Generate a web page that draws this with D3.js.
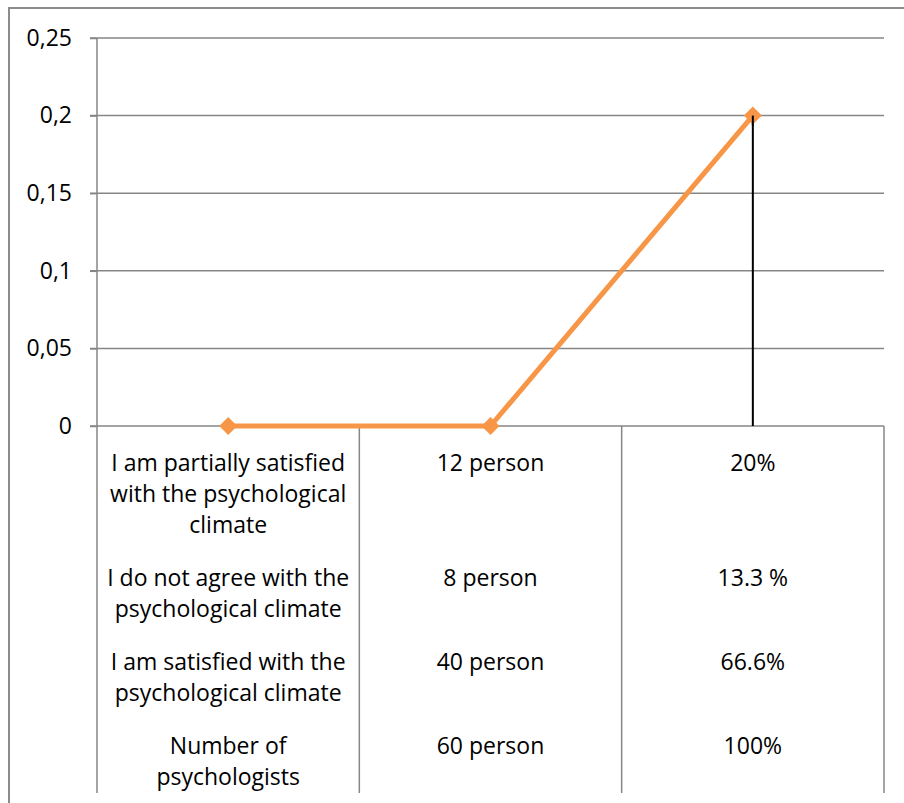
<!DOCTYPE html>
<html>
<head>
<meta charset="utf-8">
<script src="https://cdn.jsdelivr.net/npm/d3@7"></script>
<style>
  html, body { margin: 0; padding: 0; background: #fff; }
  svg { display: block; }
  text { font-family: "Open Sans", sans-serif; fill: #000; }
</style>
</head>
<body>
<script>
// Survey of psychologists on the psychological climate
const statements = [
  ["I am partially satisfied", "with the psychological", "climate"],
  ["I do not agree with the", "psychological climate"],
  ["I am satisfied with the", "psychological climate"],
  ["Number of", "psychologists"]
];
const counts = ["12 person", "8 person", "40 person", "60 person"];
const shares = ["20%", "13.3 %", "66.6%", "100%"];
const categoryColumns = [statements, counts, shares];
const values = [0, 0, 0.2];
const yTicks = [0, 0.05, 0.1, 0.15, 0.2, 0.25];

const W = 904, H = 803;
const plot = { left: 97, right: 884, top: 38, bottom: 426 };
const tableBottom = 793;
const lineH = 31, rowGap = 22, firstLine = 463;
const fontSize = 23;

const svg = d3.select("body").append("svg").attr("width", W).attr("height", H);

// chart frame
svg.append("path")
  .attr("d", `M9,${H} V8 H${W}`)
  .attr("fill", "none").attr("stroke", "#8c8c8c").attr("stroke-width", 2);

const x = d3.scaleBand().domain(d3.range(categoryColumns.length)).range([plot.left, plot.right]);
const y = d3.scaleLinear().domain([0, 0.25]).range([plot.bottom, plot.top]);
const cx = i => x(i) + x.bandwidth() / 2;

// gridlines
svg.append("g").selectAll("line").data(yTicks).join("line")
  .attr("x1", plot.left - 7).attr("x2", plot.right)
  .attr("y1", d => y(d)).attr("y2", d => y(d))
  .attr("stroke", "#868686").attr("stroke-width", 1.5);

// value axis
const yAxis = d3.axisLeft(y).tickValues(yTicks)
  .tickFormat(d => String(+d.toFixed(2)).replace(".", ","))
  .tickSize(7).tickPadding(18);
const gy = svg.append("g").attr("transform", `translate(${plot.left},0)`).call(yAxis);
gy.select(".domain").remove();
gy.selectAll(".tick line").attr("stroke", "#868686").attr("stroke-width", 1.5);
gy.selectAll(".tick text").attr("font-size", fontSize).attr("font-family", "'Open Sans', sans-serif").attr("fill", "#000");

// vertical axis line extended through the category table
svg.append("line")
  .attr("x1", plot.left).attr("x2", plot.left)
  .attr("y1", plot.top).attr("y2", tableBottom)
  .attr("stroke", "#868686").attr("stroke-width", 1.5);

// category dividers
svg.append("g").selectAll("line").data(d3.range(categoryColumns.length)).join("line")
  .attr("x1", i => x(i) + x.bandwidth()).attr("x2", i => x(i) + x.bandwidth())
  .attr("y1", plot.bottom).attr("y2", tableBottom)
  .attr("stroke", "#868686").attr("stroke-width", 1.5);

// row start positions follow the wrapping of the statements
const rowStarts = [];
let cur = firstLine;
statements.forEach(s => {
  rowStarts.push(cur);
  cur += (s.length - 1) * lineH + lineH + rowGap;
});

// category labels
categoryColumns.forEach((col, ci) => {
  col.forEach((cell, ri) => {
    const lines = Array.isArray(cell) ? cell : [cell];
    svg.append("text")
      .attr("text-anchor", "middle")
      .attr("font-size", fontSize)
      .selectAll("tspan").data(lines).join("tspan")
      .attr("x", cx(ci))
      .attr("y", (d, k) => rowStarts[ri] + k * lineH)
      .attr("dy", "0.35em")
      .text(d => d);
  });
});

// drop line from the last point
const last = values.length - 1;
svg.append("line")
  .attr("x1", cx(last)).attr("x2", cx(last))
  .attr("y1", y(values[last])).attr("y2", y(0))
  .attr("stroke", "#000").attr("stroke-width", 2);

// series line
svg.append("path")
  .datum(values)
  .attr("d", d3.line().x((d, i) => cx(i)).y(d => y(d)))
  .attr("fill", "none").attr("stroke", "#F79646").attr("stroke-width", 5)
  .attr("stroke-linejoin", "round");

// diamond markers
svg.append("g").selectAll("path").data(values).join("path")
  .attr("transform", (d, i) => `translate(${cx(i)},${y(d)})`)
  .attr("d", "M0,-9 L9,0 L0,9 L-9,0 Z")
  .attr("fill", "#F79646");

// drop line stays visible over the last marker
svg.append("line")
  .attr("x1", cx(last)).attr("x2", cx(last))
  .attr("y1", y(values[last])).attr("y2", y(values[last]) + 10)
  .attr("stroke", "#000").attr("stroke-width", 2);
</script>
</body>
</html>
